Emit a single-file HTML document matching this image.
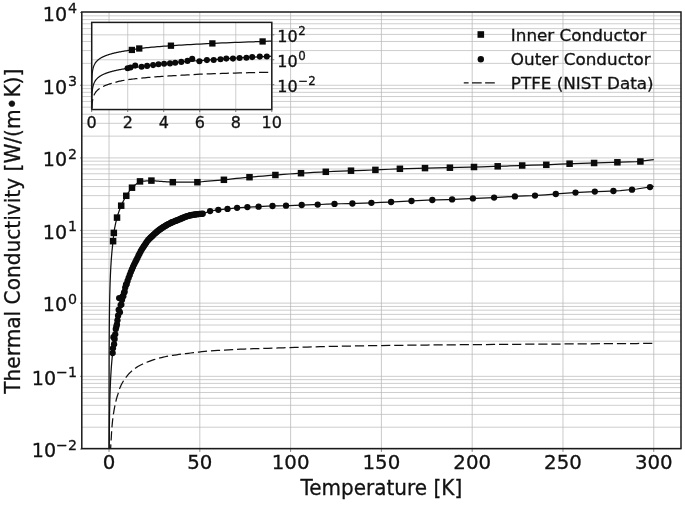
<!DOCTYPE html><html><head><meta charset="utf-8"><title>Thermal Conductivity</title><style>html,body{margin:0;padding:0;background:#fff}svg{display:block}text{stroke:#111;stroke-width:.3px;paint-order:stroke}</style></head><body><svg width="685" height="505" viewBox="0 0 685 505" font-family="'DejaVu Sans', 'Liberation Sans', sans-serif" fill="#111"><rect width="685" height="505" fill="#fff"/><defs><clipPath id="cm"><rect x="81.80" y="12.00" width="599.20" height="436.60"/></clipPath><clipPath id="ci"><rect x="91.70" y="22.40" width="180.10" height="87.15"/></clipPath></defs><path d="M109.04 12.00 V448.60 M199.82 12.00 V448.60 M290.61 12.00 V448.60 M381.40 12.00 V448.60 M472.19 12.00 V448.60 M562.98 12.00 V448.60 M653.76 12.00 V448.60" stroke="#bbbbbb" stroke-width="0.80" fill="none"/><path d="M81.80 449.10 H681.00 M81.80 427.20 H681.00 M81.80 414.38 H681.00 M81.80 405.29 H681.00 M81.80 398.24 H681.00 M81.80 392.48 H681.00 M81.80 387.61 H681.00 M81.80 383.39 H681.00 M81.80 379.66 H681.00 M81.80 376.33 H681.00 M81.80 354.23 H681.00 M81.80 341.18 H681.00 M81.80 332.07 H681.00 M81.80 325.02 H681.00 M81.80 319.26 H681.00 M81.80 314.39 H681.00 M81.80 310.17 H681.00 M81.80 306.45 H681.00 M81.80 303.12 H681.00 M81.80 281.21 H681.00 M81.80 268.40 H681.00 M81.80 259.31 H681.00 M81.80 252.25 H681.00 M81.80 246.49 H681.00 M81.80 241.62 H681.00 M81.80 237.40 H681.00 M81.80 233.68 H681.00 M81.80 230.35 H681.00 M81.80 208.45 H681.00 M81.80 195.63 H681.00 M81.80 186.54 H681.00 M81.80 179.49 H681.00 M81.80 173.75 H681.00 M81.80 168.97 H681.00 M81.80 164.82 H681.00 M81.80 161.17 H681.00 M81.80 157.90 H681.00 M81.80 136.13 H681.00 M81.80 123.31 H681.00 M81.80 114.22 H681.00 M81.80 107.17 H681.00 M81.80 101.41 H681.00 M81.80 96.54 H681.00 M81.80 92.32 H681.00 M81.80 88.60 H681.00 M81.80 85.27 H681.00 M81.80 63.36 H681.00 M81.80 50.55 H681.00 M81.80 41.46 H681.00 M81.80 34.40 H681.00 M81.80 28.64 H681.00 M81.80 23.77 H681.00 M81.80 19.55 H681.00 M81.80 15.83 H681.00" stroke="#b8b8b8" stroke-width="0.70" fill="none"/><path d="M109.04 448.60 v3.3 M199.82 448.60 v3.3 M290.61 448.60 v3.3 M381.40 448.60 v3.3 M472.19 448.60 v3.3 M562.98 448.60 v3.3 M653.76 448.60 v3.3 M81.80 449.10 h-1.8 M81.80 376.33 h-1.8 M81.80 303.12 h-1.8 M81.80 230.35 h-1.8 M81.80 157.90 h-1.8 M81.80 85.27 h-1.8 M81.80 12.50 h-1.8" stroke="#666" stroke-width="0.8" fill="none"/><g clip-path="url(#cm)"><path d="M109.04 484.84 L109.04 483.85 L109.04 482.85 L109.04 481.85 L109.04 480.85 L109.04 479.85 L109.04 478.85 L109.04 477.85 L109.04 476.85 L109.04 475.86 L109.04 474.86 L109.04 473.86 L109.04 472.86 L109.04 471.86 L109.04 470.86 L109.04 469.86 L109.04 468.86 L109.04 467.86 L109.04 466.87 L109.04 465.87 L109.04 464.87 L109.04 463.87 L109.04 462.87 L109.04 461.87 L109.04 460.87 L109.04 459.87 L109.04 458.87 L109.04 457.88 L109.04 456.88 L109.04 455.88 L109.04 454.88 L109.04 453.88 L109.04 452.88 L109.04 451.88 L109.04 450.88 L109.04 449.88 L109.04 448.89 L109.04 447.89 L109.04 446.89 L109.04 445.89 L109.04 444.89 L109.04 443.89 L109.04 442.89 L109.04 441.89 L109.04 440.89 L109.04 439.90 L109.04 438.90 L109.04 437.90 L109.04 436.90 L109.04 435.90 L109.05 434.90 L109.05 433.90 L109.05 432.90 L109.05 431.90 L109.05 430.91 L109.05 429.91 L109.05 428.91 L109.05 427.91 L109.05 426.91 L109.05 425.91 L109.05 424.91 L109.05 423.91 L109.05 422.91 L109.05 421.92 L109.05 420.92 L109.05 419.92 L109.05 418.92 L109.05 417.92 L109.05 416.92 L109.05 415.92 L109.05 414.92 L109.05 413.92 L109.05 412.93 L109.05 411.93 L109.06 410.93 L109.06 409.93 L109.06 408.93 L109.06 407.93 L109.06 406.93 L109.06 405.93 L109.06 404.93 L109.06 403.94 L109.06 402.94 L109.06 401.94 L109.06 400.94 L109.06 399.94 L109.06 398.94 L109.06 397.94 L109.07 396.94 L109.07 395.94 L109.07 394.95 L109.07 393.95 L109.07 392.95 L109.07 391.95 L109.07 390.95 L109.07 389.95 L109.07 388.95 L109.08 387.95 L109.08 386.96 L109.08 385.96 L109.08 384.96 L109.08 383.96 L109.08 382.96 L109.08 381.96 L109.08 380.96 L109.09 379.96 L109.09 378.96 L109.09 377.97 L109.09 376.97 L109.09 375.97 L109.10 374.97 L109.10 373.97 L109.10 372.97 L109.10 371.97 L109.10 370.97 L109.11 369.97 L109.11 368.98 L109.11 367.98 L109.11 366.98 L109.11 365.98 L109.12 364.98 L109.12 363.98 L109.12 362.98 L109.12 361.98 L109.13 360.98 L109.13 359.99 L109.13 358.99 L109.14 357.99 L109.14 356.99 L109.14 355.99 L109.15 354.99 L109.15 353.99 L109.15 352.99 L109.16 351.99 L109.16 351.00 L109.17 350.00 L109.17 349.00 L109.17 348.00 L109.18 347.00 L109.18 346.00 L109.19 345.00 L109.19 344.00 L109.20 343.00 L109.20 342.01 L109.21 341.01 L109.21 340.01 L109.22 339.01 L109.23 338.01 L109.23 337.01 L109.24 336.01 L109.24 335.01 L109.25 334.01 L109.26 333.02 L109.27 332.02 L109.27 331.02 L109.28 330.02 L109.29 329.02 L109.30 328.02 L109.30 327.02 L109.31 326.02 L109.32 325.02 L109.33 324.03 L109.34 323.03 L109.35 322.03 L109.36 321.03 L109.37 320.03 L109.38 319.03 L109.39 318.03 L109.40 317.03 L109.42 316.03 L109.43 315.04 L109.44 314.04 L109.45 313.04 L109.47 312.04 L109.48 311.04 L109.49 310.04 L109.51 309.04 L109.52 308.04 L109.54 307.04 L109.56 306.05 L109.57 305.05 L109.59 304.05 L109.61 303.05 L109.63 302.05 L109.65 301.05 L109.67 300.05 L109.69 299.05 L109.71 298.06 L109.73 297.06 L109.75 296.06 L109.77 295.06 L109.80 294.06 L109.82 293.06 L109.85 292.06 L109.87 291.06 L109.90 290.06 L109.93 289.07 L109.96 288.07 L109.98 287.07 L110.02 286.07 L110.05 285.07 L110.08 284.07 L110.11 283.07 L110.15 282.07 L110.18 281.07 L110.22 280.08 L110.26 279.08 L110.30 278.08 L110.34 277.08 L110.38 276.08 L110.42 275.08 L110.47 274.08 L110.51 273.08 L110.56 272.08 L110.61 271.09 L110.66 270.09 L110.71 269.09 L110.77 268.09 L110.82 267.09 L110.88 266.09 L110.94 265.09 L111.00 264.09 L111.06 263.09 L111.13 262.10 L111.19 261.10 L111.26 260.10 L111.33 259.10 L111.41 258.10 L111.48 257.10 L111.56 256.10 L111.64 255.10 L111.73 254.10 L111.81 253.11 L111.90 252.11 L112.00 251.11 L112.09 250.11 L112.19 249.11 L112.29 248.11 L112.39 247.11 L112.50 246.11 L112.61 245.11 L112.73 244.12 L112.85 243.12 L112.97 242.12 L113.10 241.07 L113.23 239.52 L113.36 237.97 L113.50 236.41 L113.64 234.86 L113.79 233.30 L113.94 232.20 L114.10 231.25 L114.26 230.30 L114.43 229.36 L114.60 228.41 L114.78 227.46 L114.97 226.52 L115.16 225.57 L115.36 224.62 L115.56 223.68 L115.77 222.73 L115.98 221.78 L116.21 220.84 L116.44 219.89 L116.68 218.94 L116.92 218.00 L117.17 217.08 L117.43 216.19 L117.70 215.29 L117.98 214.40 L118.27 213.50 L118.57 212.61 L118.87 211.71 L119.19 210.82 L119.51 209.93 L119.85 209.03 L120.20 208.14 L120.56 207.24 L120.93 206.35 L121.31 205.45 L121.70 204.55 L122.11 203.65 L122.53 202.76 L122.96 201.86 L123.41 200.96 L123.87 200.06 L124.35 199.16 L124.84 198.26 L125.35 197.36 L125.87 196.46 L126.41 195.57 L126.97 194.67 L127.55 193.78 L128.14 192.89 L128.75 192.00 L129.39 191.11 L130.04 190.22 L130.71 189.33 L131.41 188.43 L132.13 187.58 L132.87 186.92 L133.64 186.25 L134.43 185.58 L135.24 184.92 L136.08 184.25 L136.95 183.59 L137.85 182.92 L138.77 182.25 L139.73 181.59 L140.71 181.34 L141.73 181.26 L142.78 181.18 L143.86 181.10 L144.98 181.02 L146.14 180.94 L147.33 180.86 L148.56 180.78 L149.83 180.70 L151.14 180.62 L152.49 180.70 L153.88 180.82 L155.32 180.95 L156.81 181.07 L158.34 181.19 L159.93 181.32 L161.56 181.44 L163.25 181.57 L164.99 181.69 L166.79 181.81 L168.64 181.94 L170.56 182.06 L172.53 182.18 L174.57 182.20 L176.67 182.20 L178.85 182.20 L181.09 182.20 L183.40 182.20 L185.79 182.20 L188.25 182.20 L190.80 182.20 L193.42 182.20 L196.13 182.20 L198.93 182.04 L201.82 181.75 L204.80 181.46 L207.87 181.18 L211.05 180.89 L214.32 180.60 L217.70 180.31 L221.19 180.02 L224.79 179.70 L228.51 179.29 L232.35 178.88 L236.31 178.47 L240.40 178.07 L244.61 177.66 L248.97 177.25 L253.46 176.84 L258.10 176.43 L262.89 176.02 L267.83 175.61 L272.92 175.19 L278.19 174.79 L283.62 174.39 L289.23 174.00 L295.01 173.60 L300.98 173.20 L307.15 172.84 L313.51 172.47 L320.08 172.11 L326.85 171.75 L333.85 171.44 L341.07 171.12 L348.52 170.80 L356.21 170.52 L364.15 170.26 L372.34 170.00 L380.79 169.65 L389.52 169.25 L398.53 168.86 L407.82 168.57 L417.42 168.31 L427.32 168.06 L437.54 167.89 L448.09 167.73 L458.98 167.43 L470.22 167.11 L481.82 166.76 L493.79 166.41 L506.14 166.02 L518.90 165.61 L532.06 165.21 L545.64 164.82 L559.66 164.16 L574.13 163.57 L589.07 163.14 L604.48 162.68 L620.39 162.19 L636.82 161.62 L653.76 159.70" stroke="#111" stroke-width="1.25" fill="none"/><path d="M109.04 593.14 L109.04 592.14 L109.04 591.14 L109.04 590.14 L109.04 589.14 L109.04 588.14 L109.04 587.15 L109.04 586.15 L109.04 585.15 L109.04 584.15 L109.04 583.15 L109.04 582.15 L109.04 581.15 L109.04 580.15 L109.04 579.15 L109.04 578.16 L109.04 577.16 L109.04 576.16 L109.04 575.16 L109.04 574.16 L109.04 573.16 L109.04 572.16 L109.04 571.16 L109.04 570.16 L109.04 569.17 L109.04 568.17 L109.04 567.17 L109.04 566.17 L109.04 565.17 L109.04 564.17 L109.04 563.17 L109.04 562.17 L109.04 561.17 L109.04 560.18 L109.04 559.18 L109.04 558.18 L109.04 557.18 L109.04 556.18 L109.04 555.18 L109.04 554.18 L109.04 553.18 L109.04 552.18 L109.04 551.19 L109.04 550.19 L109.04 549.19 L109.04 548.19 L109.04 547.19 L109.04 546.19 L109.04 545.19 L109.04 544.19 L109.05 543.19 L109.05 542.20 L109.05 541.20 L109.05 540.20 L109.05 539.20 L109.05 538.20 L109.05 537.20 L109.05 536.20 L109.05 535.20 L109.05 534.20 L109.05 533.21 L109.05 532.21 L109.05 531.21 L109.05 530.21 L109.05 529.21 L109.05 528.21 L109.05 527.21 L109.05 526.21 L109.05 525.21 L109.05 524.22 L109.05 523.22 L109.05 522.22 L109.05 521.22 L109.05 520.22 L109.06 519.22 L109.06 518.22 L109.06 517.22 L109.06 516.22 L109.06 515.23 L109.06 514.23 L109.06 513.23 L109.06 512.23 L109.06 511.23 L109.06 510.23 L109.06 509.23 L109.06 508.23 L109.06 507.24 L109.06 506.24 L109.07 505.24 L109.07 504.24 L109.07 503.24 L109.07 502.24 L109.07 501.24 L109.07 500.24 L109.07 499.24 L109.07 498.25 L109.07 497.25 L109.08 496.25 L109.08 495.25 L109.08 494.25 L109.08 493.25 L109.08 492.25 L109.08 491.25 L109.08 490.25 L109.08 489.26 L109.09 488.26 L109.09 487.26 L109.09 486.26 L109.09 485.26 L109.09 484.26 L109.10 483.26 L109.10 482.26 L109.10 481.26 L109.10 480.27 L109.10 479.27 L109.11 478.27 L109.11 477.27 L109.11 476.27 L109.11 475.27 L109.11 474.27 L109.12 473.27 L109.12 472.27 L109.12 471.28 L109.12 470.28 L109.13 469.28 L109.13 468.28 L109.13 467.28 L109.14 466.28 L109.14 465.28 L109.14 464.28 L109.15 463.28 L109.15 462.29 L109.15 461.29 L109.16 460.29 L109.16 459.29 L109.17 458.29 L109.17 457.29 L109.17 456.29 L109.18 455.29 L109.18 454.29 L109.19 453.30 L109.19 452.30 L109.20 451.30 L109.20 450.30 L109.21 449.30 L109.21 448.30 L109.22 447.30 L109.23 446.30 L109.23 445.30 L109.24 444.31 L109.24 443.31 L109.25 442.31 L109.26 441.31 L109.27 440.31 L109.27 439.31 L109.28 438.31 L109.29 437.31 L109.30 436.31 L109.30 435.32 L109.31 434.32 L109.32 433.32 L109.33 432.32 L109.34 431.32 L109.35 430.32 L109.36 429.32 L109.37 428.32 L109.38 427.32 L109.39 426.33 L109.40 425.33 L109.42 424.33 L109.43 423.33 L109.44 422.33 L109.45 421.33 L109.47 420.33 L109.48 419.33 L109.49 418.34 L109.51 417.34 L109.52 416.34 L109.54 415.34 L109.56 414.34 L109.57 413.34 L109.59 412.34 L109.61 411.34 L109.63 410.34 L109.65 409.35 L109.67 408.35 L109.69 407.35 L109.71 406.35 L109.73 405.35 L109.75 404.35 L109.77 403.35 L109.80 402.35 L109.82 401.35 L109.85 400.36 L109.87 399.36 L109.90 398.36 L109.93 397.36 L109.96 396.36 L109.98 395.36 L110.02 394.36 L110.05 393.36 L110.08 392.36 L110.11 391.37 L110.15 390.37 L110.18 389.37 L110.22 388.37 L110.26 387.37 L110.30 386.37 L110.34 385.37 L110.38 384.37 L110.42 383.37 L110.47 382.38 L110.51 381.38 L110.56 380.38 L110.61 379.38 L110.66 378.38 L110.71 377.38 L110.77 376.38 L110.82 375.38 L110.88 374.38 L110.94 373.39 L111.00 372.39 L111.06 371.39 L111.13 370.39 L111.19 369.39 L111.26 368.39 L111.33 367.39 L111.41 366.39 L111.48 365.39 L111.56 364.40 L111.64 363.40 L111.73 362.40 L111.81 361.40 L111.90 360.40 L112.00 359.40 L112.09 358.40 L112.19 357.40 L112.29 356.40 L112.39 355.41 L112.50 354.41 L112.61 353.41 L112.73 352.48 L112.85 351.59 L112.97 350.71 L113.10 349.82 L113.23 348.93 L113.36 348.04 L113.50 347.14 L113.64 346.23 L113.79 345.32 L113.94 344.41 L114.10 343.39 L114.26 341.97 L114.43 340.56 L114.60 339.15 L114.78 337.71 L114.97 336.27 L115.16 334.84 L115.36 333.34 L115.56 331.80 L115.77 330.27 L115.98 328.89 L116.21 327.51 L116.44 326.12 L116.68 324.70 L116.92 323.29 L117.17 321.58 L117.43 319.85 L117.70 318.03 L117.98 316.19 L118.27 314.48 L118.57 312.83 L118.87 311.49 L119.19 310.38 L119.51 309.28 L119.85 308.17 L120.20 306.60 L120.56 304.95 L120.93 303.54 L121.31 302.22 L121.70 300.61 L122.11 298.93 L122.53 296.86 L122.96 295.49 L123.41 294.25 L123.87 292.68 L124.35 291.26 L124.84 289.71 L125.35 287.85 L125.87 285.82 L126.41 284.23 L126.97 282.67 L127.55 280.95 L128.14 279.23 L128.75 277.52 L129.39 275.80 L130.04 274.09 L130.71 272.37 L131.41 270.65 L132.13 268.94 L132.87 267.22 L133.64 265.54 L134.43 263.88 L135.24 262.22 L136.08 260.55 L136.95 258.89 L137.85 257.01 L138.77 255.12 L139.73 253.23 L140.71 251.34 L141.73 249.59 L142.78 247.91 L143.86 246.22 L144.98 244.53 L146.14 242.85 L147.33 241.11 L148.56 239.62 L149.83 238.33 L151.14 237.04 L152.49 235.75 L153.88 234.45 L155.32 233.13 L156.81 231.87 L158.34 230.63 L159.93 229.41 L161.56 228.29 L163.25 227.16 L164.99 226.07 L166.79 224.99 L168.64 223.98 L170.56 223.05 L172.53 222.14 L174.57 221.28 L176.67 220.43 L178.85 219.59 L181.09 218.62 L183.40 217.60 L185.79 216.68 L188.25 215.89 L190.80 215.20 L193.42 214.74 L196.13 214.33 L198.93 213.99 L201.82 213.79 L204.80 213.05 L207.87 211.91 L211.05 210.94 L214.32 210.42 L217.70 209.89 L221.19 209.51 L224.79 209.16 L228.51 208.78 L232.35 208.33 L236.31 207.89 L240.40 207.57 L244.61 207.28 L248.97 207.04 L253.46 206.88 L258.10 206.72 L262.89 206.48 L267.83 206.23 L272.92 205.99 L278.19 205.87 L283.62 205.75 L289.23 205.55 L295.01 205.29 L300.98 205.03 L307.15 204.86 L313.51 204.70 L320.08 204.50 L326.85 204.21 L333.85 203.93 L341.07 203.75 L348.52 203.58 L356.21 203.36 L364.15 203.06 L372.34 202.76 L380.79 202.41 L389.52 202.06 L398.53 201.63 L407.82 201.18 L417.42 200.71 L427.32 200.23 L437.54 199.84 L448.09 199.52 L458.98 199.06 L470.22 198.53 L481.82 198.06 L493.79 197.61 L506.14 196.90 L518.90 196.24 L532.06 195.71 L545.64 194.77 L559.66 193.72 L574.13 192.70 L589.07 191.89 L604.48 191.28 L620.39 190.51 L636.82 189.00 L653.76 186.41" stroke="#111" stroke-width="1.25" fill="none"/><path d="M109.04 663.17 L109.04 662.17 L109.04 661.17 L109.04 660.17 L109.04 659.18 L109.04 658.18 L109.04 657.18 L109.04 656.18 L109.04 655.18 L109.04 654.18 L109.04 653.18 L109.04 652.18 L109.04 651.18 L109.04 650.19 L109.04 649.19 L109.04 648.19 L109.04 647.19 L109.04 646.19 L109.04 645.19 L109.04 644.19 L109.04 643.19 L109.04 642.19 L109.04 641.20 L109.04 640.20 L109.04 639.20 L109.04 638.20 L109.04 637.20 L109.04 636.20 L109.04 635.20 L109.04 634.20 L109.04 633.20 L109.04 632.21 L109.04 631.21 L109.04 630.21 L109.04 629.21 L109.04 628.21 L109.04 627.21 L109.04 626.21 L109.04 625.21 L109.04 624.21 L109.04 623.22 L109.04 622.22 L109.04 621.22 L109.04 620.22 L109.04 619.22 L109.04 618.22 L109.04 617.22 L109.04 616.22 L109.04 615.22 L109.04 614.23 L109.05 613.23 L109.05 612.23 L109.05 611.23 L109.05 610.23 L109.05 609.23 L109.05 608.23 L109.05 607.23 L109.05 606.23 L109.05 605.24 L109.05 604.24 L109.05 603.24 L109.05 602.24 L109.05 601.24 L109.05 600.24 L109.05 599.24 L109.05 598.24 L109.05 597.25 L109.05 596.25 L109.05 595.25 L109.05 594.25 L109.05 593.25 L109.05 592.25 L109.05 591.25 L109.05 590.25 L109.06 589.25 L109.06 588.26 L109.06 587.26 L109.06 586.26 L109.06 585.26 L109.06 584.26 L109.06 583.26 L109.06 582.26 L109.06 581.26 L109.06 580.26 L109.06 579.27 L109.06 578.27 L109.06 577.27 L109.06 576.27 L109.07 575.27 L109.07 574.27 L109.07 573.27 L109.07 572.27 L109.07 571.27 L109.07 570.28 L109.07 569.28 L109.07 568.28 L109.07 567.28 L109.08 566.28 L109.08 565.28 L109.08 564.28 L109.08 563.28 L109.08 562.28 L109.08 561.29 L109.08 560.29 L109.08 559.29 L109.09 558.29 L109.09 557.29 L109.09 556.29 L109.09 555.29 L109.09 554.29 L109.10 553.29 L109.10 552.30 L109.10 551.30 L109.10 550.30 L109.10 549.30 L109.11 548.30 L109.11 547.30 L109.11 546.30 L109.11 545.30 L109.11 544.30 L109.12 543.31 L109.12 542.31 L109.12 541.31 L109.12 540.31 L109.13 539.31 L109.13 538.31 L109.13 537.31 L109.14 536.31 L109.14 535.31 L109.14 534.32 L109.15 533.32 L109.15 532.32 L109.15 531.32 L109.16 530.32 L109.16 529.32 L109.17 528.32 L109.17 527.32 L109.17 526.32 L109.18 525.33 L109.18 524.33 L109.19 523.33 L109.19 522.33 L109.20 521.33 L109.20 520.33 L109.21 519.33 L109.21 518.33 L109.22 517.33 L109.23 516.34 L109.23 515.34 L109.24 514.34 L109.24 513.34 L109.25 512.34 L109.26 511.34 L109.27 510.34 L109.27 509.34 L109.28 508.35 L109.29 507.35 L109.30 506.35 L109.30 505.35 L109.31 504.35 L109.32 503.35 L109.33 502.35 L109.34 501.35 L109.35 500.35 L109.36 499.36 L109.37 498.36 L109.38 497.36 L109.39 496.37 L109.40 495.38 L109.42 494.39 L109.43 493.40 L109.44 492.41 L109.45 491.42 L109.47 490.43 L109.48 489.44 L109.49 488.45 L109.51 487.46 L109.52 486.47 L109.54 485.48 L109.56 484.49 L109.57 483.51 L109.59 482.52 L109.61 481.53 L109.63 480.54 L109.65 479.55 L109.67 478.56 L109.69 477.57 L109.71 476.58 L109.73 475.59 L109.75 474.60 L109.77 473.61 L109.80 472.62 L109.82 471.63 L109.85 470.64 L109.87 469.65 L109.90 468.66 L109.93 467.67 L109.96 466.68 L109.98 465.70 L110.02 464.71 L110.05 463.72 L110.08 462.69 L110.11 461.65 L110.15 460.62 L110.18 459.58 L110.22 458.54 L110.26 457.50 L110.30 456.47 L110.34 455.43 L110.38 454.39 L110.42 453.36 L110.47 452.32 L110.51 451.28 L110.56 450.25 L110.61 449.21 L110.66 448.17 L110.71 447.14 L110.77 446.10 L110.82 445.06 L110.88 444.02 L110.94 442.99 L111.00 441.95 L111.06 440.91 L111.13 439.88 L111.19 438.84 L111.26 437.80 L111.33 436.64 L111.41 435.28 L111.48 433.91 L111.56 432.55 L111.64 431.19 L111.73 429.83 L111.81 428.66 L111.90 427.61 L112.00 426.56 L112.09 425.50 L112.19 424.45 L112.29 423.40 L112.39 422.35 L112.50 421.30 L112.61 420.25 L112.73 419.20 L112.85 418.23 L112.97 417.33 L113.10 416.43 L113.23 415.52 L113.36 414.62 L113.50 413.70 L113.64 412.78 L113.79 411.86 L113.94 410.94 L114.10 410.01 L114.26 409.09 L114.43 408.17 L114.60 407.25 L114.78 406.33 L114.97 405.41 L115.16 404.48 L115.36 403.56 L115.56 402.64 L115.77 401.72 L115.98 400.80 L116.21 399.87 L116.44 398.97 L116.68 398.15 L116.92 397.33 L117.17 396.51 L117.43 395.70 L117.70 394.88 L117.98 394.00 L118.27 392.97 L118.57 391.94 L118.87 390.92 L119.19 389.89 L119.51 388.86 L119.85 388.00 L120.20 387.19 L120.56 386.39 L120.93 385.58 L121.31 384.79 L121.70 384.04 L122.11 383.29 L122.53 382.55 L122.96 381.80 L123.41 381.05 L123.87 380.30 L124.35 379.59 L124.84 378.88 L125.35 378.18 L125.87 377.47 L126.41 376.77 L126.97 376.07 L127.55 375.36 L128.14 374.66 L128.75 373.95 L129.39 373.25 L130.04 372.58 L130.71 371.97 L131.41 371.36 L132.13 370.75 L132.87 370.15 L133.64 369.54 L134.43 368.93 L135.24 368.32 L136.08 367.71 L136.95 367.10 L137.85 366.58 L138.77 366.07 L139.73 365.56 L140.71 365.05 L141.73 364.54 L142.78 364.03 L143.86 363.52 L144.98 363.01 L146.14 362.51 L147.33 362.04 L148.56 361.57 L149.83 361.11 L151.14 360.64 L152.49 360.18 L153.88 359.71 L155.32 359.25 L156.81 358.80 L158.34 358.39 L159.93 357.98 L161.56 357.57 L163.25 357.15 L164.99 356.74 L166.79 356.33 L168.64 355.97 L170.56 355.67 L172.53 355.37 L174.57 355.07 L176.67 354.77 L178.85 354.47 L181.09 354.18 L183.40 353.88 L185.79 353.59 L188.25 353.30 L190.80 353.00 L193.42 352.70 L196.13 352.38 L198.93 352.06 L201.82 351.74 L204.80 351.42 L207.87 351.18 L211.05 350.95 L214.32 350.72 L217.70 350.49 L221.19 350.25 L224.79 350.02 L228.51 349.79 L232.35 349.56 L236.31 349.35 L240.40 349.19 L244.61 349.04 L248.97 348.89 L253.46 348.73 L258.10 348.58 L262.89 348.42 L267.83 348.27 L272.92 348.11 L278.19 347.96 L283.62 347.80 L289.23 347.65 L295.01 347.47 L300.98 347.29 L307.15 347.10 L313.51 346.92 L320.08 346.73 L326.85 346.54 L333.85 346.36 L341.07 346.18 L348.52 346.05 L356.21 345.92 L364.15 345.78 L372.34 345.65 L380.79 345.52 L389.52 345.42 L398.53 345.32 L407.82 345.22 L417.42 345.12 L427.32 345.02 L437.54 344.92 L448.09 344.83 L458.98 344.74 L470.22 344.65 L481.82 344.56 L493.79 344.47 L506.14 344.38 L518.90 344.29 L532.06 344.20 L545.64 344.11 L559.66 344.02 L574.13 343.92 L589.07 343.81 L604.48 343.71 L620.39 343.61 L636.82 343.50 L653.76 343.40" stroke="#111" stroke-width="1.25" fill="none" stroke-dasharray="9.2 3.9"/><g fill="#0a0a0a"><rect x="109.84" y="237.95" width="6.5" height="6.5"/><rect x="110.58" y="229.65" width="6.5" height="6.5"/><rect x="113.78" y="214.35" width="6.5" height="6.5"/><rect x="117.95" y="202.45" width="6.5" height="6.5"/><rect x="123.02" y="192.55" width="6.5" height="6.5"/><rect x="128.75" y="184.45" width="6.5" height="6.5"/><rect x="136.75" y="178.15" width="6.5" height="6.5"/><rect x="148.15" y="177.35" width="6.5" height="6.5"/><rect x="169.55" y="178.95" width="6.5" height="6.5"/><rect x="194.15" y="178.95" width="6.5" height="6.5"/><rect x="220.65" y="176.55" width="6.5" height="6.5"/><rect x="246.25" y="173.95" width="6.5" height="6.5"/><rect x="272.15" y="171.75" width="6.5" height="6.5"/><rect x="297.75" y="169.95" width="6.5" height="6.5"/><rect x="322.55" y="168.55" width="6.5" height="6.5"/><rect x="347.75" y="167.45" width="6.5" height="6.5"/><rect x="372.15" y="166.65" width="6.5" height="6.5"/><rect x="396.65" y="165.55" width="6.5" height="6.5"/><rect x="421.75" y="164.85" width="6.5" height="6.5"/><rect x="446.65" y="164.45" width="6.5" height="6.5"/><rect x="470.75" y="163.75" width="6.5" height="6.5"/><rect x="494.45" y="163.05" width="6.5" height="6.5"/><rect x="518.95" y="162.25" width="6.5" height="6.5"/><rect x="543.05" y="161.55" width="6.5" height="6.5"/><rect x="566.35" y="160.45" width="6.5" height="6.5"/><rect x="590.85" y="159.75" width="6.5" height="6.5"/><rect x="614.15" y="159.05" width="6.5" height="6.5"/><rect x="637.15" y="158.25" width="6.5" height="6.5"/></g><g fill="#0a0a0a"><circle cx="127.56" cy="280.91" r="3.15"/><circle cx="128.65" cy="277.81" r="3.15"/><circle cx="129.74" cy="274.88" r="3.15"/><circle cx="130.83" cy="272.09" r="3.15"/><circle cx="131.91" cy="269.44" r="3.15"/><circle cx="133.00" cy="266.92" r="3.15"/><circle cx="134.09" cy="264.57" r="3.15"/><circle cx="135.18" cy="262.33" r="3.15"/><circle cx="136.27" cy="260.19" r="3.15"/><circle cx="137.36" cy="258.03" r="3.15"/><circle cx="138.45" cy="255.77" r="3.15"/><circle cx="139.54" cy="253.60" r="3.15"/><circle cx="140.63" cy="251.50" r="3.15"/><circle cx="141.72" cy="249.61" r="3.15"/><circle cx="142.81" cy="247.86" r="3.15"/><circle cx="143.90" cy="246.17" r="3.15"/><circle cx="144.99" cy="244.53" r="3.15"/><circle cx="146.08" cy="242.93" r="3.15"/><circle cx="147.17" cy="241.34" r="3.15"/><circle cx="148.26" cy="239.93" r="3.15"/><circle cx="149.35" cy="238.81" r="3.15"/><circle cx="150.44" cy="237.73" r="3.15"/><circle cx="151.53" cy="236.67" r="3.15"/><circle cx="152.61" cy="235.64" r="3.15"/><circle cx="153.70" cy="234.62" r="3.15"/><circle cx="154.79" cy="233.61" r="3.15"/><circle cx="155.88" cy="232.63" r="3.15"/><circle cx="156.97" cy="231.73" r="3.15"/><circle cx="158.06" cy="230.86" r="3.15"/><circle cx="159.15" cy="230.00" r="3.15"/><circle cx="160.24" cy="229.19" r="3.15"/><circle cx="161.33" cy="228.44" r="3.15"/><circle cx="162.42" cy="227.71" r="3.15"/><circle cx="163.51" cy="226.99" r="3.15"/><circle cx="164.60" cy="226.31" r="3.15"/><circle cx="165.69" cy="225.65" r="3.15"/><circle cx="166.78" cy="225.00" r="3.15"/><circle cx="167.87" cy="224.37" r="3.15"/><circle cx="168.96" cy="223.82" r="3.15"/><circle cx="170.05" cy="223.29" r="3.15"/><circle cx="171.14" cy="222.77" r="3.15"/><circle cx="172.22" cy="222.27" r="3.15"/><circle cx="173.31" cy="221.81" r="3.15"/><circle cx="174.40" cy="221.35" r="3.15"/><circle cx="175.49" cy="220.90" r="3.15"/><circle cx="176.58" cy="220.47" r="3.15"/><circle cx="177.67" cy="220.04" r="3.15"/><circle cx="178.76" cy="219.62" r="3.15"/><circle cx="179.85" cy="219.18" r="3.15"/><circle cx="180.94" cy="218.68" r="3.15"/><circle cx="182.03" cy="218.19" r="3.15"/><circle cx="183.12" cy="217.71" r="3.15"/><circle cx="184.21" cy="217.29" r="3.15"/><circle cx="185.30" cy="216.87" r="3.15"/><circle cx="186.39" cy="216.46" r="3.15"/><circle cx="187.48" cy="216.11" r="3.15"/><circle cx="188.57" cy="215.81" r="3.15"/><circle cx="189.66" cy="215.51" r="3.15"/><circle cx="190.75" cy="215.21" r="3.15"/><circle cx="191.83" cy="215.02" r="3.15"/><circle cx="192.92" cy="214.82" r="3.15"/><circle cx="194.01" cy="214.63" r="3.15"/><circle cx="195.10" cy="214.46" r="3.15"/><circle cx="196.19" cy="214.32" r="3.15"/><circle cx="197.28" cy="214.19" r="3.15"/><circle cx="198.37" cy="214.05" r="3.15"/><circle cx="199.46" cy="213.95" r="3.15"/><circle cx="200.55" cy="213.88" r="3.15"/><circle cx="201.64" cy="213.80" r="3.15"/><circle cx="202.73" cy="213.73" r="3.15"/><circle cx="210.10" cy="211.10" r="3.15"/><circle cx="218.30" cy="209.80" r="3.15"/><circle cx="227.50" cy="208.90" r="3.15"/><circle cx="237.10" cy="207.80" r="3.15"/><circle cx="247.40" cy="207.10" r="3.15"/><circle cx="258.60" cy="206.70" r="3.15"/><circle cx="272.50" cy="206.00" r="3.15"/><circle cx="286.00" cy="205.70" r="3.15"/><circle cx="301.70" cy="205.00" r="3.15"/><circle cx="317.70" cy="204.60" r="3.15"/><circle cx="334.50" cy="203.90" r="3.15"/><circle cx="352.40" cy="203.50" r="3.15"/><circle cx="371.40" cy="202.80" r="3.15"/><circle cx="391.10" cy="202.00" r="3.15"/><circle cx="411.50" cy="201.00" r="3.15"/><circle cx="432.30" cy="200.00" r="3.15"/><circle cx="452.10" cy="199.40" r="3.15"/><circle cx="472.90" cy="198.40" r="3.15"/><circle cx="494.10" cy="197.60" r="3.15"/><circle cx="514.90" cy="196.40" r="3.15"/><circle cx="535.00" cy="195.60" r="3.15"/><circle cx="555.80" cy="194.00" r="3.15"/><circle cx="575.50" cy="192.60" r="3.15"/><circle cx="594.80" cy="191.60" r="3.15"/><circle cx="613.40" cy="191.00" r="3.15"/><circle cx="632.00" cy="189.70" r="3.15"/><circle cx="650.00" cy="187.10" r="3.15"/><circle cx="112.66" cy="353.04" r="3.15"/><circle cx="112.95" cy="348.36" r="3.15"/><circle cx="113.42" cy="337.26" r="3.15"/><circle cx="114.07" cy="344.27" r="3.15"/><circle cx="114.62" cy="339.01" r="3.15"/><circle cx="115.23" cy="334.34" r="3.15"/><circle cx="115.77" cy="329.08" r="3.15"/><circle cx="116.34" cy="326.74" r="3.15"/><circle cx="116.93" cy="324.40" r="3.15"/><circle cx="117.45" cy="320.31" r="3.15"/><circle cx="118.07" cy="315.63" r="3.15"/><circle cx="118.69" cy="309.79" r="3.15"/><circle cx="119.17" cy="298.10" r="3.15"/><circle cx="119.89" cy="312.13" r="3.15"/><circle cx="120.65" cy="305.11" r="3.15"/><circle cx="121.34" cy="304.53" r="3.15"/><circle cx="122.02" cy="299.85" r="3.15"/><circle cx="122.61" cy="296.35" r="3.15"/><circle cx="123.28" cy="296.35" r="3.15"/><circle cx="123.95" cy="292.84" r="3.15"/><circle cx="124.63" cy="291.67" r="3.15"/><circle cx="125.22" cy="287.58" r="3.15"/><circle cx="125.98" cy="284.66" r="3.15"/><circle cx="126.69" cy="284.07" r="3.15"/></g></g><rect x="81.80" y="12.00" width="599.20" height="436.60" fill="none" stroke="#1a1a1a" stroke-width="1.5"/><text x="109.04" y="468.9" font-size="19.8" text-anchor="middle">0</text><text x="199.82" y="468.9" font-size="19.8" text-anchor="middle">50</text><text x="290.61" y="468.9" font-size="19.8" text-anchor="middle">100</text><text x="381.40" y="468.9" font-size="19.8" text-anchor="middle">150</text><text x="472.19" y="468.9" font-size="19.8" text-anchor="middle">200</text><text x="562.98" y="468.9" font-size="19.8" text-anchor="middle">250</text><text x="653.76" y="468.9" font-size="19.8" text-anchor="middle">300</text><text transform="translate(77.0 449.90) scale(1 1)" font-size="14.2" text-anchor="end">−2</text><text transform="translate(56.07 457.40) scale(0.96 1)" font-size="19.9" text-anchor="end">10</text><text transform="translate(77.0 377.13) scale(1 1)" font-size="14.2" text-anchor="end">−1</text><text transform="translate(56.07 384.63) scale(0.96 1)" font-size="19.9" text-anchor="end">10</text><text transform="translate(77.0 303.92) scale(1 1)" font-size="14.2" text-anchor="end">0</text><text transform="translate(67.17 311.42) scale(0.96 1)" font-size="19.9" text-anchor="end">10</text><text transform="translate(77.0 231.15) scale(1 1)" font-size="14.2" text-anchor="end">1</text><text transform="translate(67.17 238.65) scale(0.96 1)" font-size="19.9" text-anchor="end">10</text><text transform="translate(77.0 158.70) scale(1 1)" font-size="14.2" text-anchor="end">2</text><text transform="translate(67.17 166.20) scale(0.96 1)" font-size="19.9" text-anchor="end">10</text><text transform="translate(77.0 86.07) scale(1 1)" font-size="14.2" text-anchor="end">3</text><text transform="translate(67.17 93.57) scale(0.96 1)" font-size="19.9" text-anchor="end">10</text><text transform="translate(77.0 13.30) scale(1 1)" font-size="14.2" text-anchor="end">4</text><text transform="translate(67.17 20.80) scale(0.96 1)" font-size="19.9" text-anchor="end">10</text><text transform="translate(381.3 494.8) scale(0.972 1)" font-size="20.6" text-anchor="middle">Temperature [K]</text><text transform="translate(19.6 231.2) rotate(-90) scale(0.978 1)" font-size="20.6" text-anchor="middle">Thermal Conductivity [W/(m•K)]</text><rect x="477.5" y="31.2" width="6.6" height="6.6" fill="#0a0a0a"/><circle cx="480.8" cy="59.2" r="3.2" fill="#0a0a0a"/><path d="M463.8 82.9 H494.8" stroke="#111" stroke-width="1.25" stroke-dasharray="9.7 3.4" stroke-dashoffset="4.9" fill="none"/><text transform="translate(510.8 40.8) scale(1.09 1)" font-size="15.4">Inner Conductor</text><text transform="translate(510.8 64.9) scale(1.09 1)" font-size="15.4">Outer Conductor</text><text transform="translate(510.8 89.0) scale(1.09 1)" font-size="15.4">PTFE (NIST Data)</text><rect x="91.70" y="22.40" width="180.10" height="87.15" fill="#fff"/><path d="M91.70 22.40 V109.55 M127.72 22.40 V109.55 M163.74 22.40 V109.55 M199.76 22.40 V109.55 M235.78 22.40 V109.55 M271.80 22.40 V109.55 M91.70 84.65 H271.80 M91.70 59.75 H271.80 M91.70 34.85 H271.80" stroke="#b8b8b8" stroke-width="0.70" fill="none"/><g clip-path="url(#ci)"><path d="M91.72 91.65 L91.72 91.48 L91.72 91.32 L91.72 91.15 L91.72 90.98 L91.72 90.81 L91.72 90.65 L91.72 90.48 L91.72 90.31 L91.72 90.14 L91.72 89.98 L91.73 89.81 L91.73 89.64 L91.73 89.47 L91.73 89.31 L91.73 89.14 L91.73 88.97 L91.73 88.80 L91.73 88.64 L91.73 88.47 L91.73 88.30 L91.73 88.14 L91.74 87.97 L91.74 87.80 L91.74 87.63 L91.74 87.47 L91.74 87.30 L91.74 87.13 L91.74 86.96 L91.74 86.80 L91.75 86.63 L91.75 86.46 L91.75 86.29 L91.75 86.13 L91.75 85.96 L91.75 85.79 L91.75 85.62 L91.76 85.46 L91.76 85.29 L91.76 85.12 L91.76 84.95 L91.76 84.79 L91.77 84.62 L91.77 84.45 L91.77 84.28 L91.77 84.12 L91.77 83.95 L91.78 83.78 L91.78 83.61 L91.78 83.45 L91.78 83.28 L91.79 83.11 L91.79 82.94 L91.79 82.78 L91.80 82.61 L91.80 82.44 L91.80 82.27 L91.81 82.11 L91.81 81.94 L91.81 81.77 L91.82 81.61 L91.82 81.44 L91.82 81.27 L91.83 81.10 L91.83 80.94 L91.83 80.77 L91.84 80.60 L91.84 80.43 L91.85 80.27 L91.85 80.10 L91.86 79.93 L91.86 79.76 L91.87 79.60 L91.87 79.43 L91.88 79.26 L91.88 79.09 L91.89 78.93 L91.90 78.76 L91.90 78.59 L91.91 78.42 L91.91 78.26 L91.92 78.09 L91.93 77.92 L91.94 77.75 L91.94 77.59 L91.95 77.42 L91.96 77.25 L91.97 77.08 L91.97 76.92 L91.98 76.75 L91.99 76.58 L92.00 76.41 L92.01 76.25 L92.02 76.08 L92.03 75.91 L92.04 75.74 L92.05 75.58 L92.06 75.41 L92.07 75.24 L92.09 75.08 L92.10 74.91 L92.11 74.74 L92.12 74.57 L92.14 74.41 L92.15 74.24 L92.17 74.07 L92.18 73.90 L92.19 73.74 L92.21 73.57 L92.23 73.40 L92.24 73.23 L92.26 73.07 L92.28 72.90 L92.30 72.73 L92.31 72.56 L92.33 72.40 L92.35 72.23 L92.37 72.06 L92.40 71.89 L92.42 71.73 L92.44 71.56 L92.46 71.39 L92.49 71.22 L92.51 71.06 L92.54 70.89 L92.56 70.72 L92.59 70.55 L92.62 70.39 L92.65 70.22 L92.68 70.05 L92.71 69.88 L92.74 69.72 L92.77 69.55 L92.81 69.38 L92.84 69.21 L92.88 69.05 L92.91 68.88 L92.95 68.71 L92.99 68.54 L93.03 68.38 L93.08 68.21 L93.12 68.04 L93.16 67.88 L93.21 67.71 L93.26 67.54 L93.31 67.37 L93.36 67.21 L93.41 67.04 L93.46 66.87 L93.52 66.70 L93.57 66.54 L93.63 66.37 L93.69 66.20 L93.76 66.03 L93.82 65.87 L93.89 65.70 L93.96 65.53 L94.03 65.36 L94.10 65.20 L94.18 65.03 L94.25 64.86 L94.33 64.69 L94.42 64.53 L94.50 64.36 L94.59 64.19 L94.68 64.02 L94.78 63.86 L94.87 63.69 L94.97 63.52 L95.08 63.35 L95.18 63.19 L95.29 63.02 L95.40 62.85 L95.52 62.68 L95.64 62.52 L95.76 62.35 L95.89 62.18 L96.02 62.01 L96.16 61.85 L96.30 61.68 L96.45 61.51 L96.59 61.35 L96.75 61.18 L96.91 61.01 L97.07 60.84 L97.24 60.68 L97.41 60.51 L97.59 60.34 L97.78 60.17 L97.97 60.01 L98.17 59.84 L98.37 59.67 L98.58 59.50 L98.80 59.34 L99.02 59.17 L99.25 59.00 L99.49 58.83 L99.73 58.67 L99.99 58.50 L100.25 58.33 L100.52 58.16 L100.79 58.00 L101.08 57.83 L101.37 57.66 L101.68 57.49 L101.99 57.33 L102.32 57.16 L102.65 56.99 L102.99 56.82 L103.35 56.66 L103.72 56.49 L104.09 56.32 L104.48 56.15 L104.89 55.99 L105.30 55.82 L105.73 55.65 L106.17 55.48 L106.62 55.32 L107.09 55.15 L107.58 54.98 L108.08 54.82 L108.59 54.65 L109.12 54.48 L109.67 54.31 L110.24 54.15 L110.82 53.98 L111.42 53.81 L112.04 53.64 L112.68 53.48 L113.34 53.31 L114.02 53.14 L114.72 52.97 L115.45 52.81 L116.20 52.64 L116.97 52.47 L117.76 52.30 L118.58 52.14 L119.43 51.97 L120.30 51.80 L121.20 51.63 L122.12 51.47 L123.08 51.30 L124.07 51.13 L125.09 50.96 L126.14 50.80 L127.22 50.63 L128.34 50.46 L129.49 50.28 L130.68 50.11 L131.90 49.93 L133.17 49.67 L134.47 49.40 L135.82 49.13 L137.20 48.86 L138.64 48.59 L140.11 48.38 L141.63 48.22 L143.21 48.05 L144.83 47.88 L146.50 47.71 L148.22 47.55 L150.00 47.38 L151.83 47.21 L153.72 47.04 L155.67 46.87 L157.68 46.70 L159.76 46.53 L161.90 46.36 L164.11 46.19 L166.39 46.02 L168.73 45.84 L171.16 45.67 L173.66 45.51 L176.23 45.34 L178.89 45.18 L181.64 45.01 L184.46 44.85 L187.38 44.68 L190.39 44.52 L193.50 44.35 L196.70 44.18 L200.00 44.01 L203.41 43.84 L206.92 43.68 L210.54 43.50 L214.28 43.33 L218.14 43.16 L222.11 42.99 L226.21 42.82 L230.44 42.64 L234.81 42.47 L239.31 42.29 L243.95 42.11 L248.74 41.94 L253.68 41.76 L258.77 41.58 L264.03 41.40 L269.45 41.22 L275.04 41.06 L280.81 40.91" stroke="#111" stroke-width="1.25" fill="none"/><path d="M91.72 109.38 L91.72 109.21 L91.72 109.04 L91.72 108.88 L91.72 108.71 L91.72 108.54 L91.72 108.38 L91.72 108.21 L91.72 108.04 L91.72 107.87 L91.72 107.71 L91.73 107.54 L91.73 107.37 L91.73 107.20 L91.73 107.04 L91.73 106.87 L91.73 106.70 L91.73 106.53 L91.73 106.37 L91.73 106.20 L91.73 106.03 L91.73 105.86 L91.74 105.70 L91.74 105.53 L91.74 105.36 L91.74 105.19 L91.74 105.03 L91.74 104.86 L91.74 104.69 L91.74 104.52 L91.75 104.36 L91.75 104.19 L91.75 104.02 L91.75 103.85 L91.75 103.69 L91.75 103.52 L91.75 103.35 L91.76 103.18 L91.76 103.02 L91.76 102.85 L91.76 102.68 L91.76 102.51 L91.77 102.35 L91.77 102.18 L91.77 102.01 L91.77 101.85 L91.77 101.68 L91.78 101.51 L91.78 101.34 L91.78 101.18 L91.78 101.01 L91.79 100.84 L91.79 100.67 L91.79 100.51 L91.80 100.34 L91.80 100.17 L91.80 100.00 L91.81 99.84 L91.81 99.67 L91.81 99.50 L91.82 99.33 L91.82 99.17 L91.82 99.00 L91.83 98.83 L91.83 98.66 L91.83 98.50 L91.84 98.33 L91.84 98.16 L91.85 97.99 L91.85 97.83 L91.86 97.66 L91.86 97.49 L91.87 97.32 L91.87 97.16 L91.88 96.99 L91.88 96.82 L91.89 96.65 L91.90 96.49 L91.90 96.32 L91.91 96.15 L91.91 95.98 L91.92 95.82 L91.93 95.65 L91.94 95.48 L91.94 95.32 L91.95 95.15 L91.96 94.98 L91.97 94.81 L91.97 94.65 L91.98 94.48 L91.99 94.31 L92.00 94.14 L92.01 93.98 L92.02 93.81 L92.03 93.64 L92.04 93.47 L92.05 93.31 L92.06 93.14 L92.07 92.97 L92.09 92.80 L92.10 92.64 L92.11 92.47 L92.12 92.30 L92.14 92.13 L92.15 91.97 L92.17 91.80 L92.18 91.63 L92.19 91.46 L92.21 91.30 L92.23 91.13 L92.24 90.96 L92.26 90.79 L92.28 90.63 L92.30 90.46 L92.31 90.29 L92.33 90.12 L92.35 89.96 L92.37 89.79 L92.40 89.62 L92.42 89.45 L92.44 89.29 L92.46 89.12 L92.49 88.95 L92.51 88.78 L92.54 88.62 L92.56 88.45 L92.59 88.28 L92.62 88.12 L92.65 87.95 L92.68 87.78 L92.71 87.61 L92.74 87.45 L92.77 87.28 L92.81 87.11 L92.84 86.94 L92.88 86.78 L92.91 86.61 L92.95 86.44 L92.99 86.27 L93.03 86.11 L93.08 85.94 L93.12 85.77 L93.16 85.60 L93.21 85.44 L93.26 85.27 L93.31 85.10 L93.36 84.93 L93.41 84.77 L93.46 84.60 L93.52 84.43 L93.57 84.26 L93.63 84.10 L93.69 83.93 L93.76 83.76 L93.82 83.59 L93.89 83.43 L93.96 83.26 L94.03 83.09 L94.10 82.92 L94.18 82.76 L94.25 82.59 L94.33 82.42 L94.42 82.25 L94.50 82.09 L94.59 81.92 L94.68 81.75 L94.78 81.59 L94.87 81.42 L94.97 81.25 L95.08 81.08 L95.18 80.92 L95.29 80.75 L95.40 80.58 L95.52 80.41 L95.64 80.25 L95.76 80.08 L95.89 79.91 L96.02 79.74 L96.16 79.58 L96.30 79.41 L96.45 79.24 L96.59 79.07 L96.75 78.91 L96.91 78.74 L97.07 78.57 L97.24 78.40 L97.41 78.24 L97.59 78.07 L97.78 77.90 L97.97 77.73 L98.17 77.57 L98.37 77.40 L98.58 77.23 L98.80 77.06 L99.02 76.90 L99.25 76.73 L99.49 76.56 L99.73 76.39 L99.99 76.23 L100.25 76.06 L100.52 75.89 L100.79 75.72 L101.08 75.56 L101.37 75.39 L101.68 75.22 L101.99 75.06 L102.32 74.89 L102.65 74.72 L102.99 74.55 L103.35 74.39 L103.72 74.22 L104.09 74.05 L104.48 73.88 L104.89 73.72 L105.30 73.55 L105.73 73.38 L106.17 73.21 L106.62 73.05 L107.09 72.88 L107.58 72.71 L108.08 72.54 L108.59 72.38 L109.12 72.21 L109.67 72.04 L110.24 71.87 L110.82 71.71 L111.42 71.54 L112.04 71.37 L112.68 71.20 L113.34 71.04 L114.02 70.87 L114.72 70.70 L115.45 70.53 L116.20 70.37 L116.97 70.20 L117.76 70.03 L118.58 69.86 L119.43 69.70 L120.30 69.53 L121.20 69.36 L122.12 69.19 L123.08 69.03 L124.07 68.86 L125.09 68.69 L126.14 68.53 L127.22 68.36 L128.34 68.20 L129.49 68.05 L130.68 67.91 L131.90 67.76 L133.17 67.61 L134.47 67.46 L135.82 67.31 L137.20 67.15 L138.64 67.00 L140.11 66.85 L141.63 66.69 L143.21 66.46 L144.83 66.22 L146.50 65.98 L148.22 65.74 L150.00 65.50 L151.83 65.26 L153.72 65.02 L155.67 64.76 L157.68 64.50 L159.76 64.26 L161.90 64.03 L164.11 63.80 L166.39 63.56 L168.73 63.32 L171.16 63.06 L173.66 62.77 L176.23 62.48 L178.89 62.17 L181.64 61.87 L184.46 61.59 L187.38 61.31 L190.39 61.12 L193.50 60.94 L196.70 60.75 L200.00 60.55 L203.41 60.27 L206.92 60.00 L210.54 59.78 L214.28 59.54 L218.14 59.27 L222.11 58.98 L226.21 58.63 L230.44 58.43 L234.81 58.21 L239.31 57.95 L243.95 57.71 L248.74 57.45 L253.68 57.13 L258.77 56.79 L264.03 56.53 L269.45 56.27 L275.04 55.98 L280.81 55.69" stroke="#111" stroke-width="1.25" fill="none"/><path d="M91.72 121.36 L91.72 121.19 L91.72 121.03 L91.72 120.86 L91.72 120.69 L91.72 120.52 L91.72 120.36 L91.72 120.19 L91.72 120.02 L91.72 119.86 L91.72 119.69 L91.73 119.52 L91.73 119.35 L91.73 119.19 L91.73 119.02 L91.73 118.85 L91.73 118.68 L91.73 118.52 L91.73 118.35 L91.73 118.18 L91.73 118.01 L91.73 117.85 L91.74 117.68 L91.74 117.51 L91.74 117.34 L91.74 117.18 L91.74 117.01 L91.74 116.84 L91.74 116.67 L91.74 116.51 L91.75 116.34 L91.75 116.17 L91.75 116.00 L91.75 115.84 L91.75 115.67 L91.75 115.50 L91.75 115.33 L91.76 115.17 L91.76 115.00 L91.76 114.83 L91.76 114.66 L91.76 114.50 L91.77 114.33 L91.77 114.16 L91.77 113.99 L91.77 113.83 L91.77 113.66 L91.78 113.49 L91.78 113.32 L91.78 113.16 L91.78 112.99 L91.79 112.82 L91.79 112.66 L91.79 112.49 L91.80 112.32 L91.80 112.15 L91.80 111.99 L91.81 111.82 L91.81 111.65 L91.81 111.48 L91.82 111.32 L91.82 111.15 L91.82 110.98 L91.83 110.81 L91.83 110.65 L91.83 110.48 L91.84 110.31 L91.84 110.14 L91.85 109.98 L91.85 109.81 L91.86 109.64 L91.86 109.47 L91.87 109.31 L91.87 109.14 L91.88 108.97 L91.88 108.80 L91.89 108.64 L91.90 108.47 L91.90 108.30 L91.91 108.13 L91.91 107.97 L91.92 107.80 L91.93 107.63 L91.94 107.46 L91.94 107.30 L91.95 107.13 L91.96 106.96 L91.97 106.79 L91.97 106.63 L91.98 106.46 L91.99 106.29 L92.00 106.13 L92.01 105.96 L92.02 105.79 L92.03 105.62 L92.04 105.46 L92.05 105.29 L92.06 105.12 L92.07 104.95 L92.09 104.79 L92.10 104.62 L92.11 104.45 L92.12 104.28 L92.14 104.12 L92.15 103.95 L92.17 103.78 L92.18 103.61 L92.19 103.45 L92.21 103.28 L92.23 103.11 L92.24 102.94 L92.26 102.78 L92.28 102.61 L92.30 102.44 L92.31 102.27 L92.33 102.11 L92.35 101.94 L92.37 101.77 L92.40 101.60 L92.42 101.44 L92.44 101.27 L92.46 101.10 L92.49 100.93 L92.51 100.77 L92.54 100.60 L92.56 100.43 L92.59 100.26 L92.62 100.10 L92.65 99.93 L92.68 99.76 L92.71 99.60 L92.74 99.43 L92.77 99.26 L92.81 99.09 L92.84 98.93 L92.88 98.76 L92.91 98.59 L92.95 98.42 L92.99 98.26 L93.03 98.09 L93.08 97.92 L93.12 97.75 L93.16 97.59 L93.21 97.42 L93.26 97.25 L93.31 97.08 L93.36 96.92 L93.41 96.75 L93.46 96.58 L93.52 96.41 L93.57 96.25 L93.63 96.08 L93.69 95.91 L93.76 95.74 L93.82 95.58 L93.89 95.41 L93.96 95.24 L94.03 95.07 L94.10 94.91 L94.18 94.74 L94.25 94.57 L94.33 94.40 L94.42 94.24 L94.50 94.07 L94.59 93.90 L94.68 93.73 L94.78 93.57 L94.87 93.40 L94.97 93.23 L95.08 93.07 L95.18 92.90 L95.29 92.73 L95.40 92.57 L95.52 92.40 L95.64 92.24 L95.76 92.07 L95.89 91.90 L96.02 91.74 L96.16 91.57 L96.30 91.41 L96.45 91.24 L96.59 91.07 L96.75 90.91 L96.91 90.74 L97.07 90.58 L97.24 90.41 L97.41 90.24 L97.59 90.08 L97.78 89.91 L97.97 89.75 L98.17 89.58 L98.37 89.42 L98.58 89.25 L98.80 89.08 L99.02 88.92 L99.25 88.75 L99.49 88.59 L99.73 88.42 L99.99 88.25 L100.25 88.09 L100.52 87.92 L100.79 87.76 L101.08 87.59 L101.37 87.43 L101.68 87.26 L101.99 87.09 L102.32 86.91 L102.65 86.74 L102.99 86.57 L103.35 86.39 L103.72 86.22 L104.09 86.05 L104.48 85.87 L104.89 85.70 L105.30 85.52 L105.73 85.35 L106.17 85.18 L106.62 85.00 L107.09 84.83 L107.58 84.65 L108.08 84.48 L108.59 84.31 L109.12 84.13 L109.67 83.96 L110.24 83.79 L110.82 83.61 L111.42 83.44 L112.04 83.26 L112.68 83.09 L113.34 82.92 L114.02 82.74 L114.72 82.53 L115.45 82.30 L116.20 82.07 L116.97 81.84 L117.76 81.62 L118.58 81.39 L119.43 81.20 L120.30 81.03 L121.20 80.85 L122.12 80.67 L123.08 80.50 L124.07 80.32 L125.09 80.15 L126.14 79.97 L127.22 79.79 L128.34 79.62 L129.49 79.46 L130.68 79.30 L131.90 79.15 L133.17 79.00 L134.47 78.85 L135.82 78.70 L137.20 78.54 L138.64 78.39 L140.11 78.23 L141.63 78.08 L143.21 77.92 L144.83 77.77 L146.50 77.61 L148.22 77.46 L150.00 77.31 L151.83 77.15 L153.72 77.00 L155.67 76.84 L157.68 76.69 L159.76 76.53 L161.90 76.38 L164.11 76.22 L166.39 76.08 L168.73 75.94 L171.16 75.81 L173.66 75.67 L176.23 75.53 L178.89 75.40 L181.64 75.23 L184.46 75.06 L187.38 74.89 L190.39 74.72 L193.50 74.54 L196.70 74.38 L200.00 74.24 L203.41 74.10 L206.92 73.97 L210.54 73.83 L214.28 73.70 L218.14 73.58 L222.11 73.45 L226.21 73.33 L230.44 73.20 L234.81 73.08 L239.31 72.95 L243.95 72.83 L248.74 72.71 L253.68 72.60 L258.77 72.48 L264.03 72.36 L269.45 72.24 L275.04 72.12 L280.81 72.01" stroke="#111" stroke-width="1.25" fill="none" stroke-dasharray="9.2 3.9"/><g fill="#0a0a0a"><rect x="128.71" y="46.79" width="6.3" height="6.3"/><rect x="136.10" y="45.33" width="6.3" height="6.3"/><rect x="167.79" y="42.54" width="6.3" height="6.3"/><rect x="209.22" y="40.27" width="6.3" height="6.3"/><rect x="259.46" y="38.30" width="6.3" height="6.3"/></g><g fill="#0a0a0a"><circle cx="127.60" cy="68.30" r="3.05"/><circle cx="130.50" cy="67.50" r="3.05"/><circle cx="135.20" cy="65.60" r="3.05"/><circle cx="141.60" cy="66.80" r="3.05"/><circle cx="147.10" cy="65.90" r="3.05"/><circle cx="153.10" cy="65.10" r="3.05"/><circle cx="158.50" cy="64.20" r="3.05"/><circle cx="164.10" cy="63.80" r="3.05"/><circle cx="170.00" cy="63.40" r="3.05"/><circle cx="175.20" cy="62.70" r="3.05"/><circle cx="181.30" cy="61.90" r="3.05"/><circle cx="187.50" cy="60.90" r="3.05"/><circle cx="192.20" cy="58.90" r="3.05"/><circle cx="199.40" cy="61.30" r="3.05"/><circle cx="206.90" cy="60.10" r="3.05"/><circle cx="213.70" cy="60.00" r="3.05"/><circle cx="220.50" cy="59.20" r="3.05"/><circle cx="226.30" cy="58.60" r="3.05"/><circle cx="233.00" cy="58.60" r="3.05"/><circle cx="239.60" cy="58.00" r="3.05"/><circle cx="246.40" cy="57.80" r="3.05"/><circle cx="252.20" cy="57.10" r="3.05"/><circle cx="259.80" cy="56.60" r="3.05"/><circle cx="266.80" cy="56.50" r="3.05"/></g></g><rect x="91.70" y="22.40" width="180.10" height="87.15" fill="none" stroke="#1a1a1a" stroke-width="1.5"/><path d="M91.70 109.55 v2.5 M127.72 109.55 v2.5 M163.74 109.55 v2.5 M199.76 109.55 v2.5 M235.78 109.55 v2.5 M271.80 109.55 v2.5 M271.80 84.65 h2.5 M271.80 59.75 h2.5 M271.80 34.85 h2.5" stroke="#555" stroke-width="0.8" fill="none"/><text x="91.70" y="127.5" font-size="16.0" text-anchor="middle">0</text><text x="127.72" y="127.5" font-size="16.0" text-anchor="middle">2</text><text x="163.74" y="127.5" font-size="16.0" text-anchor="middle">4</text><text x="199.76" y="127.5" font-size="16.0" text-anchor="middle">6</text><text x="235.78" y="127.5" font-size="16.0" text-anchor="middle">8</text><text x="271.80" y="127.5" font-size="16.0" text-anchor="middle">10</text><text x="277.3" y="91.65" font-size="16.0">10<tspan font-size="11.8" dx="0.7" dy="-6.4">−2</tspan></text><text x="277.3" y="66.75" font-size="16.0">10<tspan font-size="11.8" dx="0.7" dy="-6.4">0</tspan></text><text x="277.3" y="41.85" font-size="16.0">10<tspan font-size="11.8" dx="0.7" dy="-6.4">2</tspan></text></svg></body></html>
